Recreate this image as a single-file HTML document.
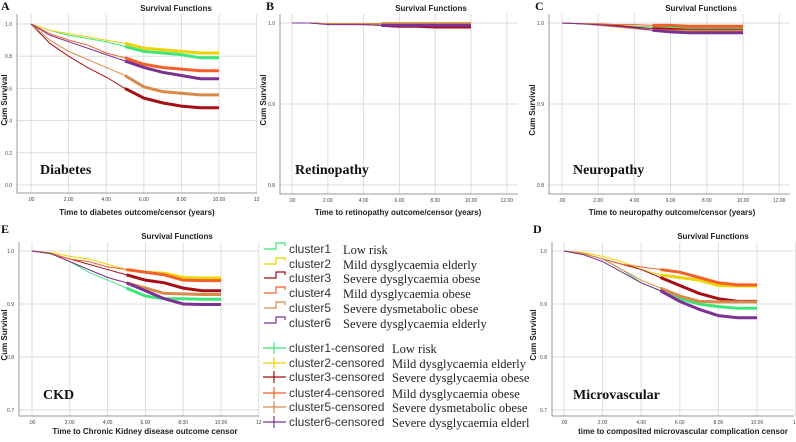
<!DOCTYPE html>
<html><head><meta charset="utf-8">
<style>
body{margin:0;background:#fff;}
svg{display:block;font-family:"Liberation Sans",sans-serif;}
.tick{font-size:5px;fill:#444;}
.ttl{font-size:8px;fill:#222;font-weight:bold;}
.xl{font-size:8px;fill:#222;font-weight:bold;}
.pl{font-family:"Liberation Serif",serif;font-weight:bold;font-size:12px;fill:#111;}
.nm{font-family:"Liberation Serif",serif;font-weight:bold;font-size:14px;fill:#111;}
.lg{font-size:12px;fill:#333;}
.ld{font-family:"Liberation Serif",serif;font-size:12.5px;fill:#222;}
</style></head>
<body>
<svg id="fig" width="796" height="442" viewBox="0 0 796 442"></svg>
<script>
const years=[0,1,2,3,4,5,6,7,8,9,10];
const clusterNames=["cluster1","cluster2","cluster3","cluster4","cluster5","cluster6"];
const clusterDesc=["Low risk","Mild dysglycaemia elderly","Severe dysglycaemia obese","Mild dysglycaemia obese","Severe dysmetabolic obese","Severe dysglycaemia elderly"];
const censDesc=["Low risk","Mild dysglycaemia elderly","Severe dysglycaemia obese","Mild dysglycaemia obese","Severe dysmetabolic obese","Severe dysglycaemia elderl"];
const colors=["#3fe57a","#ecd400","#a50f15","#f4602a","#d98a4a","#7b3294"];
const diabetesA=[
[1,.96,.93,.91,.89,.86,.83,.82,.81,.79,.79],
[1,.96,.94,.92,.90,.88,.85,.84,.83,.82,.82],
[1,.88,.80,.73,.67,.60,.54,.51,.49,.48,.48],
[1,.94,.90,.87,.82,.79,.75,.73,.72,.71,.71],
[1,.90,.83,.78,.73,.68,.61,.58,.57,.56,.56],
[1,.93,.89,.85,.81,.77,.73,.70,.68,.66,.66]];
const retinoB=[
[1,1,.999,.999,.999,.999,.999,.999,.999,.999,.999],
[1,1,.999,.999,.999,.999,.999,.999,.999,.999,.999],
[1,1,.999,.998,.998,.997,.996,.996,.995,.995,.995],
[1,1,.999,.999,.999,.999,.998,.998,.998,.998,.998],
[1,1,.999,.999,.999,.999,.999,.999,.999,.999,.999],
[1,1,.998,.998,.998,.997,.997,.997,.997,.997,.997]];
const neuroC=[
[1,.999,.998,.997,.996,.995,.994,.994,.993,.993,.993],
[1,.999,.998,.997,.995,.993,.992,.991,.991,.991,.991],
[1,.999,.998,.997,.995,.993,.992,.991,.991,.991,.991],
[1,.999,.999,.998,.998,.997,.997,.996,.996,.996,.996],
[1,.999,.997,.995,.993,.991,.990,.990,.990,.990,.990],
[1,.999,.998,.996,.994,.991,.989,.988,.988,.988,.988]];
const ckdE=[
[1,.995,.98,.96,.945,.93,.915,.91,.91,.909,.909],
[1,.997,.99,.985,.975,.965,.96,.958,.95,.949,.949],
[1,.995,.985,.975,.965,.955,.945,.94,.93,.925,.925],
[1,.995,.985,.98,.97,.965,.96,.955,.945,.944,.944],
[1,.995,.98,.965,.95,.94,.93,.92,.919,.918,.918],
[1,.995,.98,.965,.95,.94,.925,.91,.90,.899,.899]];
const microD=[
[1,.995,.985,.965,.94,.925,.91,.90,.895,.892,.892],
[1,.997,.99,.98,.965,.955,.95,.945,.935,.934,.934],
[1,.995,.985,.975,.965,.95,.935,.92,.91,.905,.905],
[1,.995,.985,.975,.97,.965,.96,.95,.94,.936,.936],
[1,.995,.985,.965,.945,.93,.915,.905,.904,.904,.904],
[1,.993,.98,.96,.94,.925,.905,.89,.878,.874,.874]];
const xTicksA=[".00","2.00","4.00","6.00","8.00","10.00","12"];
const xTicksB=[".00","2.00","4.00","6.00","8.00","10.00","12.00"];
const yTicksA=[0,.2,.4,.6,.8,1.0];
const yTicksB=[.8,.9,1.0];
const yTicksE=[.7,.8,.9,1.0];

const NS="http://www.w3.org/2000/svg";
const svg=document.getElementById('fig');
function mk(tag,attrs,parent,txt){const e=document.createElementNS(NS,tag);for(const k in attrs)e.setAttribute(k,attrs[k]);if(txt!==undefined)e.textContent=txt;(parent||svg).appendChild(e);return e;}

function panel(p){
  const g=mk('g',{});
  
  
  const xs=t=>p.x0+(t/10)*(p.x10-p.x0);
  const ys=v=>p.yBot+(v-p.vBot)/(p.vTop-p.vBot)*(p.yTop-p.yBot);
  p.xt.forEach((lab,i)=>{const x=xs(i*2);
    const l=mk('line',{x1:x,x2:x,y1:p.top,y2:p.axB,stroke:'#ddd','stroke-width':1},g);
    
    const t=mk('text',{x:x,y:p.axB+8,'text-anchor':'middle',class:'tick'},g,lab);
    });
  p.yt.forEach(v=>{const y=ys(v);
    const l=mk('line',{x1:p.axL,x2:p.right,y1:y,y2:y,stroke:'#ddd','stroke-width':1},g);
    
    const t=mk('text',{x:p.axL-5,y:y+2,'text-anchor':'end',class:'tick'},g,v.toFixed(1));
    });
  const ax=mk('path',{d:`M${p.axL},${p.top}V${p.axB}H${p.right}`,fill:'none',stroke:'#999','stroke-width':1},g);
  
  p.data.forEach((s,ci)=>{
    let d=`M${xs(0)},${ys(s[0])}`;
    for(let i=1;i<s.length;i++){d+=`L${xs(years[i])},${ys(s[i])}`;}
    const path=mk('path',{d:d,fill:'none',stroke:colors[ci],'stroke-width':1},g);
    
    
    let d2=`M${xs(5)},${ys(s[5])}`;
    for(let i=6;i<s.length;i++){d2+=`L${xs(years[i])},${ys(s[i])}`;}
    const cp=mk('path',{d:d2,fill:'none',stroke:colors[ci],'stroke-width':3},g);
    
    
  });
  const tt=mk('text',{x:p.tx,y:p.ty,'text-anchor':'middle',class:'ttl'},g,'Survival Functions');
  
  const xl=mk('text',{x:p.xlx,y:p.xly,'text-anchor':'middle',class:'xl'},g,p.xlabel);
  
  const yl=mk('text',{x:0,y:0,'text-anchor':'middle',class:'xl',transform:`translate(${p.ylx},${p.yly}) rotate(-90)`},g,'Cum Survival');
  
  const pl=mk('text',{x:p.plx,y:p.ply,class:'pl'},g,p.letter);
  
  const nm=mk('text',{x:p.nx,y:p.ny,class:'nm'},g,p.name);
  
}
panel({id:'diabetes',data:diabetesA,x0:31,x10:219,vBot:0,yBot:185,vTop:1,yTop:24,axL:17,axB:193,top:14,right:257,
  xt:xTicksA,yt:yTicksA,tx:176,ty:11,xlabel:'Time to diabetes outcome/censor (years)',xlx:137,xly:215,ylx:7,yly:100,letter:'A',plx:1,ply:10,name:'Diabetes',nx:40,ny:174});
panel({id:'retinopathy',data:retinoB,x0:292,x10:471,vBot:.8,yBot:185,vTop:1,yTop:23,axL:280,axB:194,top:14,right:518,
  xt:xTicksB,yt:yTicksB,tx:431,ty:11,xlabel:'Time to retinopathy outcome/censor (years)',xlx:398,xly:215,ylx:266,yly:100,letter:'B',plx:266,ply:10,name:'Retinopathy',nx:295,ny:174});
panel({id:'neuropathy',data:neuroC,x0:562,x10:743,vBot:.8,yBot:185,vTop:1,yTop:23,axL:549,axB:194,top:14,right:790,
  xt:xTicksB,yt:yTicksB,tx:701,ty:11,xlabel:'Time to neuropathy outcome/censor (years)',xlx:672,xly:215,ylx:535,yly:110,letter:'C',plx:535,ply:10,name:'Neuropathy',nx:573,ny:174});
panel({id:'ckd',data:ckdE,x0:32,x10:221,vBot:.7,yBot:410,vTop:1,yTop:251,axL:19,axB:416,top:242,right:259,
  xt:xTicksA,yt:yTicksE,tx:177,ty:239,xlabel:'Time to Chronic Kidney disease outcome censor',xlx:145,xly:434,ylx:7,yly:335,letter:'E',plx:1,ply:233,name:'CKD',nx:43,ny:399});
panel({id:'microvascular',data:microD,x0:564,x10:757,vBot:.7,yBot:410,vTop:1,yTop:251,axL:552,axB:416,top:242,right:794,
  xt:xTicksA,yt:yTicksE,tx:713,ty:239,xlabel:'time to composited microvascular complication censor',xlx:683,xly:434,ylx:536,yly:335,letter:'D',plx:533,ply:233,name:'Microvascular',nx:573,ny:399});

const lg=mk('g',{});


const rowY=[249,264,278,293,308,323];
const cenY=[348,363,377,393,407,422];
clusterNames.forEach((n,i)=>{
  const y=rowY[i];
  const s=mk('path',{d:`M264,${y}H276V${y-6}H285V${y-3}`,fill:'none',stroke:colors[i],'stroke-width':1.2},lg);
  
  const t=mk('text',{x:289,y:y+4,class:'lg'},lg,n);
  
  const d=mk('text',{x:343,y:y+5,class:'ld'},lg,clusterDesc[i]);
  
  const cy=cenY[i];
  const c=mk('path',{d:`M263,${cy}H286M274,${cy-6}V${cy+6}`,fill:'none',stroke:colors[i],'stroke-width':1.2},lg);
  
  const t2=mk('text',{x:289,y:cy+4,class:'lg'},lg,n+'-censored');
  
  const d2=mk('text',{x:392,y:cy+5,class:'ld'},lg,censDesc[i]);
  
});
</script>
</body></html>
